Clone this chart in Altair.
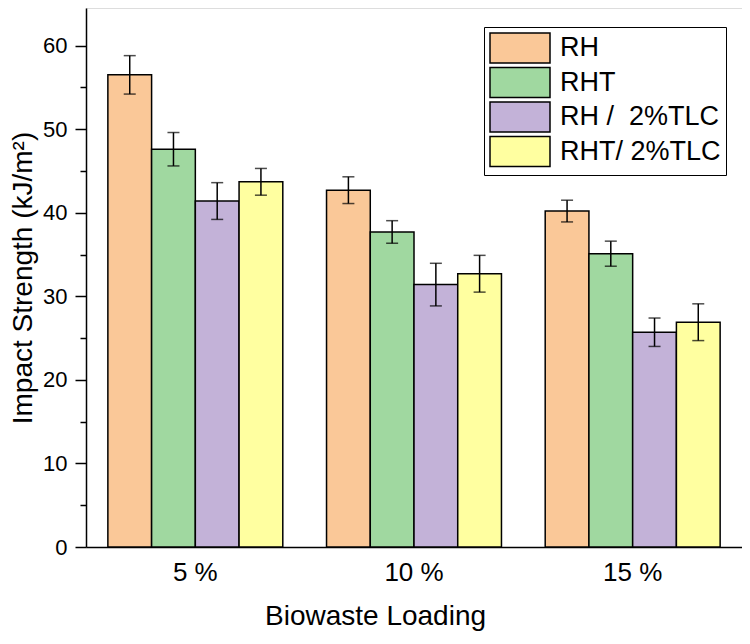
import altair as alt
import pandas as pd

loadings = ["5 %", "10 %", "15 %"]
series = ["RH", "RHT", "RH /\u00a0 2%TLC", "RHT/ 2%TLC"]
colors = ["#FAC898", "#A0D8A0", "#C3B2D8", "#FFFFA0"]
means = [
    [56.5, 42.7, 40.2],
    [47.6, 37.7, 35.1],
    [41.4, 31.4, 25.7],
    [43.7, 32.7, 26.9],
]
errors = [
    [2.3, 1.6, 1.3],
    [2.0, 1.35, 1.5],
    [2.2, 2.55, 1.7],
    [1.6, 2.2, 2.2],
]

rows = []
for si, s in enumerate(series):
    for i, l in enumerate(loadings):
        m = means[si][i]
        e = errors[si][i]
        rows.append({"loading": l, "series": s, "value": m, "lo": m - e, "hi": m + e})
df = pd.DataFrame(rows)

FONT = "Liberation Sans"
W = 656
H = 539

x_enc = alt.X(
    "loading:N",
    sort=loadings,
    scale=alt.Scale(paddingInner=0.2, paddingOuter=0.1),
    axis=alt.Axis(
        title="Biowaste Loading",
        labelAngle=0,
        ticks=False,
        labelPadding=12,
        labelFontSize=26,
        labelFont=FONT,
        labelColor="black",
        titleFontSize=28,
        titleFont=FONT,
        titleFontWeight="normal",
        titleColor="black",
        titleX=289,
        titleY=69,
        titleBaseline="middle",
        domainColor="black",
        domainWidth=1.5,
    ),
)
xo_enc = alt.XOffset("series:N", sort=series, scale=alt.Scale(paddingInner=0, paddingOuter=0))

y_scale = alt.Scale(domain=[0, 64.5], nice=False, zero=True)

bars = alt.Chart(df).mark_bar(stroke="black", strokeWidth=1.5).encode(
    x=x_enc,
    xOffset=xo_enc,
    y=alt.Y(
        "value:Q",
        scale=y_scale,
        axis=alt.Axis(
            title="Impact Strength (kJ/m²)",
            values=[0, 5, 10, 15, 20, 25, 30, 35, 40, 45, 50, 55, 60],
            labelExpr="datum.value % 10 === 0 ? datum.label : ''",
            tickSize=alt.ExprRef("datum.value % 10 === 0 ? 11 : 6"),
            tickColor="black",
            tickWidth=1.5,
            labelPadding=8,
            labelFontSize=22,
            labelFont=FONT,
            labelColor="black",
            titleFontSize=28,
            titleFont=FONT,
            titleFontWeight="normal",
            titleColor="black",
            titleAngle=270,
            titleX=-63,
            titleY=H / 2,
            titleBaseline="middle",
            domainColor="black",
            domainWidth=1.5,
            grid=False,
        ),
    ),
    fill=alt.Fill(
        "series:N",
        sort=series,
        scale=alt.Scale(domain=series, range=colors),
        legend=alt.Legend(
            title=None,
            orient="none",
            legendX=398,
            legendY=19,
            strokeColor="black",
            padding=5,
            symbolType="M-1,-1L3,-1L3,1L-1,1Z",
            symbolSize=900,
            symbolStrokeColor="black",
            symbolStrokeWidth=1.5,
            symbolOpacity=1,
            labelFontSize=27,
            labelFont=FONT,
            labelColor="black",
            labelOffset=39,
            labelLimit=400,
            rowPadding=-1.5,
        ),
    ),
)

rules = alt.Chart(df).mark_rule(color="black", strokeWidth=1.5).encode(
    x=x_enc,
    xOffset=xo_enc,
    y=alt.Y("lo:Q", scale=y_scale),
    y2="hi:Q",
)

caps_hi = alt.Chart(df).mark_tick(color="black", thickness=1.5, size=12, orient="horizontal").encode(
    x=x_enc,
    xOffset=xo_enc,
    y=alt.Y("hi:Q", scale=y_scale),
)
caps_lo = alt.Chart(df).mark_tick(color="black", thickness=1.5, size=12, orient="horizontal").encode(
    x=x_enc,
    xOffset=xo_enc,
    y=alt.Y("lo:Q", scale=y_scale),
)

chart = (
    alt.layer(bars, rules, caps_hi, caps_lo)
    .properties(
        width=W,
        height=H,
        autosize=alt.AutoSizeParams(type="none"),
        padding={"left": 78, "top": 0, "right": 0, "bottom": 88},
    )
    .configure_view(stroke=None)
    .configure(background="white")
)

chart.save("out.html", embed_options={"renderer": "svg", "actions": False})
